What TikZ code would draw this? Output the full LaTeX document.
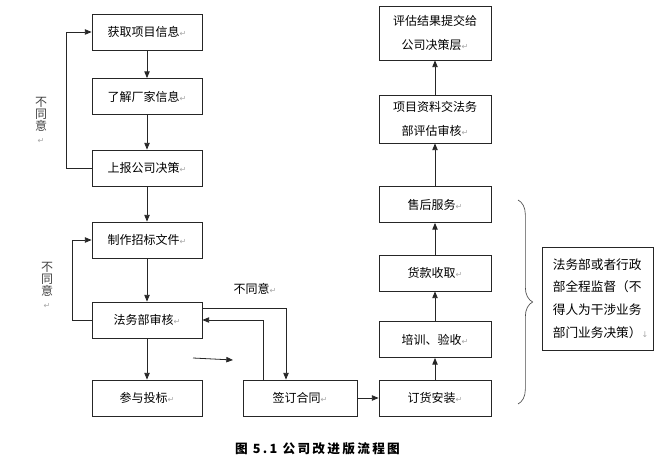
\documentclass[tikz,border=0pt]{standalone}
\usepackage{fontspec}
\setmainfont{Noto Sans CJK SC}
\newfontfamily\markfont{DejaVu Sans}
\usetikzlibrary{arrows.meta,decorations.pathreplacing}
\newcommand{\retmark}{{\markfont\fontsize{6}{6}\selectfont\color{black!35}↵}}
\newcommand{\downmark}{{\markfont\fontsize{6}{6}\selectfont\color{black!35}↓}}
\begin{document}
\begin{tikzpicture}[x=0.75pt, y=-0.75pt, line width=0.6pt,
  main node/.style={rectangle,draw=black!85,minimum width=82.5pt,minimum height=27pt,inner sep=2pt,align=center,font=\fontsize{9}{18}\selectfont},
  right node/.style={main node,minimum width=84pt},
  side label/.style={align=center,inner sep=0pt,text=black!75,font=\fontsize{9}{9.3}\selectfont},
  note node/.style={rectangle,draw=black!85,minimum width=83.25pt,minimum height=77.25pt,text width=67pt,inner sep=8pt,align=left,font=\fontsize{9.5}{17}\selectfont},
  arrow line/.style={draw=black!85,-{Triangle[length=5pt,width=4pt]}}]
\useasboundingbox (0,0) rectangle (670,466);
% left column
\begin{scope}
\node[main node] (n1) at (147,32) {获取项目信息\retmark};
\node[main node] (n2) at (147,96.5) {了解厂家信息\retmark};
\node[main node] (n3) at (147,168) {上报公司决策\retmark};
\node[main node] (n4) at (147,240) {制作招标文件\retmark};
\node[main node] (n5) at (147,320) {法务部审核\retmark};
\node[main node] (n6) at (147,398) {参与投标\retmark};
\node[main node, minimum width=85.5pt] (n7) at (300,398) {签订合同\retmark};
\end{scope}
% right column
\begin{scope}
\node[right node] (n8) at (435,398) {订货安装\retmark};
\node[right node] (n9) at (435,339.5) {培训、验收\retmark};
\node[right node] (n10) at (435,273) {货款收取\retmark};
\node[right node] (n11) at (435,204.5) {售后服务\retmark};
\node[right node, minimum height=36pt] (n12) at (435,119) {项目资料交法务\\部评估审核\retmark};
\node[right node, minimum height=40.5pt] (n13) at (435,33) {评估结果提交给\\公司决策层\retmark};
\node[note node] (note) at (597.5,298.5) {法务部或者行政\\部全程监督（不\\得人为干涉业务\\部门业务决策）\downmark};
\end{scope}
% labels
\node[side label] (l1) at (41,120) {不\\同\\意\\\retmark};
\node[side label] (l2) at (47,285) {不\\同\\意\\\retmark};
\node[font=\fontsize{9}{11}\selectfont] (l3) at (255,289) {不同意\retmark};
\node[font=\bfseries\fontsize{9.5}{12}\selectfont\addfontfeature{LetterSpace=18}] (cap) at (317.5,449) {图 5.1 公司改进版流程图};
\coordinate (s1) at (193,358);
\coordinate (s2) at (233,360);
\begin{scope}[every edge/.style={arrow line}]
\draw  (n1) edge node{} (n2);
\draw  (n2) edge node{} (n3);
\draw  (n3) edge node{} (n4);
\draw  (n4) edge node{} (n5);
\draw  (n5) edge node{} (n6);
\draw  (n7) edge node{} (n8);
\draw  (n8) edge node{} (n9);
\draw  (n9) edge node{} (n10);
\draw  (n10) edge node{} (n11);
\draw  (n11) edge node{} (n12);
\draw  (n12) edge node{} (n13);
\draw  (s1) edge node{} (s2);
\end{scope}
\draw[arrow line] (n3.west) -- ++(-25,0) |- (n1.west);
\draw[arrow line] (n5.west) -- ++(-19,0) |- (n4.west);
\draw[arrow line] ([yshift=8.6pt]n5.east) -| ([xshift=-10.5pt]n7.north);
\draw[arrow line] ([xshift=-27.75pt]n7.north) |- (n5.east);
\draw[black!70, line width=0.5pt, decorate, decoration={brace,amplitude=11pt}] (518,200) -- (518,404);
\end{tikzpicture}
\end{document}
